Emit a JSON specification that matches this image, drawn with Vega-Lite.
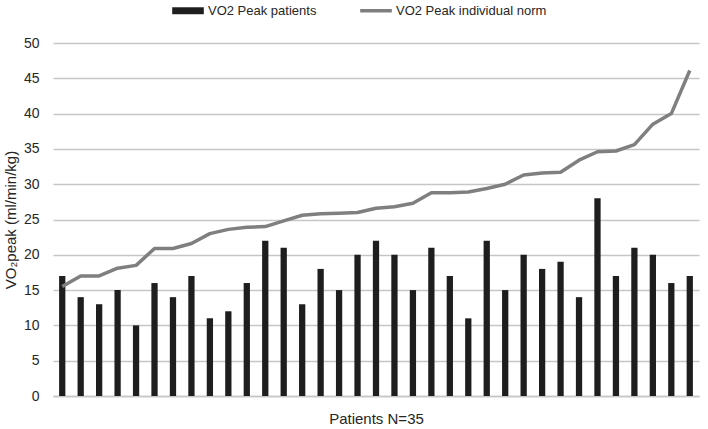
{
  "$schema": "https://vega.github.io/schema/vega-lite/v6.json",
  "width": 646,
  "height": 353,
  "autosize": {"type": "none"},
  "padding": {"left": 53, "top": 43, "right": 9, "bottom": 33},
  "background": "white",
  "config": {
    "view": {"stroke": null},
    "font": "Liberation Sans",
    "axis": {"labelFont": "Liberation Sans", "titleFont": "Liberation Sans", "labelColor": "#262626", "titleColor": "#262626", "titleFontWeight": "normal"},
    "legend": {"labelFont": "Liberation Sans"}
  },
  "data": {
    "values": [
      {"patient": 1, "peak": 17, "norm": 15.5},
      {"patient": 2, "peak": 14, "norm": 17.0},
      {"patient": 3, "peak": 13, "norm": 17.0},
      {"patient": 4, "peak": 15, "norm": 18.1},
      {"patient": 5, "peak": 10, "norm": 18.5},
      {"patient": 6, "peak": 16, "norm": 20.9},
      {"patient": 7, "peak": 14, "norm": 20.9},
      {"patient": 8, "peak": 17, "norm": 21.6},
      {"patient": 9, "peak": 11, "norm": 23.0},
      {"patient": 10, "peak": 12, "norm": 23.6},
      {"patient": 11, "peak": 16, "norm": 23.9},
      {"patient": 12, "peak": 22, "norm": 24.0},
      {"patient": 13, "peak": 21, "norm": 24.8},
      {"patient": 14, "peak": 13, "norm": 25.6},
      {"patient": 15, "peak": 18, "norm": 25.8},
      {"patient": 16, "peak": 15, "norm": 25.9},
      {"patient": 17, "peak": 20, "norm": 26.0},
      {"patient": 18, "peak": 22, "norm": 26.6},
      {"patient": 19, "peak": 20, "norm": 26.8},
      {"patient": 20, "peak": 15, "norm": 27.3},
      {"patient": 21, "peak": 21, "norm": 28.8},
      {"patient": 22, "peak": 17, "norm": 28.8},
      {"patient": 23, "peak": 11, "norm": 28.9},
      {"patient": 24, "peak": 22, "norm": 29.4},
      {"patient": 25, "peak": 15, "norm": 30.0},
      {"patient": 26, "peak": 20, "norm": 31.3},
      {"patient": 27, "peak": 18, "norm": 31.6},
      {"patient": 28, "peak": 19, "norm": 31.7},
      {"patient": 29, "peak": 14, "norm": 33.4},
      {"patient": 30, "peak": 28, "norm": 34.6},
      {"patient": 31, "peak": 17, "norm": 34.7},
      {"patient": 32, "peak": 21, "norm": 35.6},
      {"patient": 33, "peak": 20, "norm": 38.5},
      {"patient": 34, "peak": 16, "norm": 40.0},
      {"patient": 35, "peak": 17, "norm": 46.1}
    ]
  },
  "encoding": {
    "x": {
      "field": "patient",
      "type": "ordinal",
      "scale": {"paddingInner": 0.66, "paddingOuter": 0.33},
      "axis": {
        "title": "Patients N=35",
        "titleFontSize": 15,
        "titlePadding": 15,
        "labels": false,
        "ticks": false,
        "domain": true,
        "domainColor": "#c6c6c6",
        "domainWidth": 1.3,
        "grid": false
      }
    }
  },
  "layer": [
    {
      "mark": {"type": "bar", "cornerRadius": 0},
      "encoding": {
        "y": {
          "field": "peak",
          "type": "quantitative",
          "scale": {"domain": [0, 50], "nice": false},
          "axis": {
            "title": "VO₂peak (ml/min/kg)",
            "titleFontSize": 15,
            "titlePadding": 5,
            "values": [0, 5, 10, 15, 20, 25, 30, 35, 40, 45, 50],
            "labelOverlap": false,
            "labelFontSize": 14,
            "labelPadding": 14,
            "ticks": false,
            "domain": false,
            "grid": true,
            "gridColor": "#c6c6c6",
            "gridWidth": 1.3
          }
        },
        "color": {
          "datum": "VO2 Peak patients",
          "type": "nominal",
          "scale": {"domain": ["VO2 Peak patients", "VO2 Peak individual norm"], "range": ["#1e1e1e", "#7f7f7f"]},
          "legend": {
            "title": null,
            "orient": "none",
            "direction": "horizontal",
            "legendX": 128.5,
            "legendY": -39,
            "padding": 0,
            "symbolSize": 1000,
            "symbolStrokeWidth": 0,
            "labelFontSize": 13,
            "labelColor": "#262626",
            "labelOffset": 13.5,
            "columnPadding": 36,
            "encode": {
              "symbols": {
                "update": {
                  "shape": {"signal": "datum.value === 'VO2 Peak patients' ? 'M-1,-0.22H1V0.22H-1Z' : 'M-1,0H1'"},
                  "fill": {"signal": "datum.value === 'VO2 Peak patients' ? '#1e1e1e' : 'transparent'"},
                  "stroke": {"signal": "datum.value === 'VO2 Peak patients' ? 'transparent' : '#7f7f7f'"},
                  "strokeWidth": {"signal": "datum.value === 'VO2 Peak patients' ? 0 : 3.5"},
                  "opacity": {"value": 1}
                }
              }
            }
          }
        }
      }
    },
    {
      "mark": {"type": "line", "strokeWidth": 3.5, "strokeJoin": "round"},
      "encoding": {
        "y": {
          "field": "norm",
          "type": "quantitative",
          "axis": {
            "title": "VO₂peak (ml/min/kg)",
            "titleFontSize": 15,
            "titlePadding": 5,
            "values": [0, 5, 10, 15, 20, 25, 30, 35, 40, 45, 50],
            "labelOverlap": false,
            "labelFontSize": 14,
            "labelPadding": 14,
            "ticks": false,
            "domain": false,
            "grid": true,
            "gridColor": "#c6c6c6",
            "gridWidth": 1.3
          }
        },
        "color": {"datum": "VO2 Peak individual norm", "type": "nominal"}
      }
    }
  ]
}
